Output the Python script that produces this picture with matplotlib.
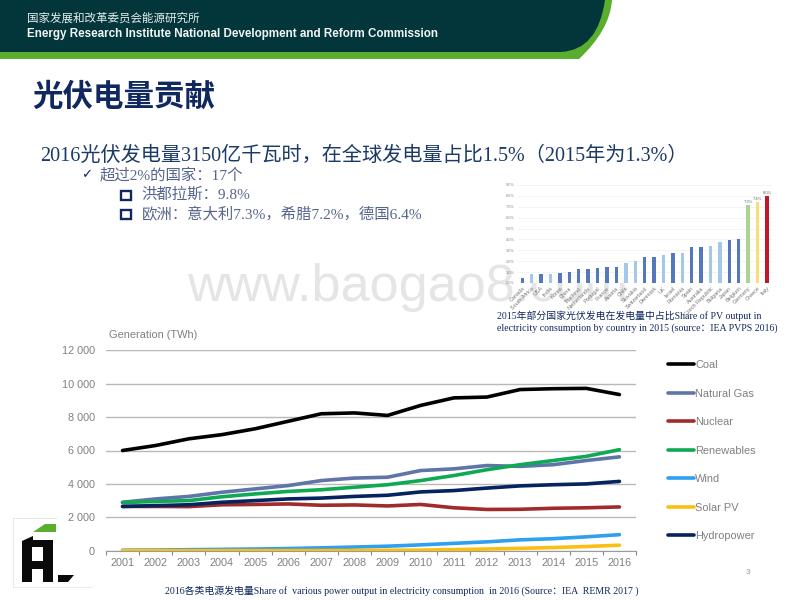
import matplotlib
matplotlib.use("Agg")
import matplotlib.pyplot as plt
from matplotlib.patches import PathPatch, Polygon, Rectangle
from matplotlib.path import Path

CJK = "Noto Sans CJK SC"
SANS = "Liberation Sans"
SERIF = "Liberation Serif"
plt.rcParams["font.family"] = [SANS, CJK, "DejaVu Sans"]

years = [str(y) for y in range(2001, 2017)]
coal = [6000, 6300, 6700, 6950, 7300, 7750, 8200, 8250, 8100, 8700, 9150, 9200, 9650, 9700, 9720, 9350]
gas = [2900, 3100, 3250, 3500, 3700, 3900, 4200, 4350, 4400, 4800, 4900, 5100, 5050, 5150, 5400, 5620]
nuclear = [2650, 2650, 2640, 2750, 2770, 2800, 2720, 2740, 2680, 2770, 2570, 2470, 2480, 2540, 2570, 2620]
renewables = [2880, 2950, 3000, 3230, 3400, 3550, 3650, 3800, 3950, 4200, 4500, 4850, 5150, 5400, 5650, 6050]
wind = [30, 40, 60, 80, 100, 130, 170, 220, 270, 350, 440, 530, 650, 720, 830, 960]
solar = [2, 3, 4, 5, 6, 8, 10, 15, 25, 35, 65, 100, 140, 190, 250, 330]
hydro = [2650, 2700, 2750, 2900, 3000, 3100, 3150, 3250, 3320, 3520, 3600, 3750, 3880, 3950, 4000, 4150]
series_names = ["Coal", "Natural Gas", "Nuclear", "Renewables", "Wind", "Solar PV", "Hydropower"]
series_values = [coal, gas, nuclear, renewables, wind, solar, hydro]
series_colors = ["#000000", "#5f74a8", "#a02b2b", "#0fa955", "#2f9fee", "#fbbf12", "#05235f"]
gen_ticks = [0, 2000, 4000, 6000, 8000, 10000, 12000]
gen_tick_labels = ["0", "2 000", "4 000", "6 000", "8 000", "10 000", "12 000"]

countries = ["Canada", "South Africa", "USA", "India", "Korea", "China", "Thailand", "Netherlands",
             "Portugal", "France", "Austria", "Chile", "Slovakia", "Switzerland", "Denmark", "UK",
             "Israel", "Romania", "Spain", "Australia", "Czech Republic", "Bulgaria", "Japan",
             "Belgium", "Germany", "Greece", "Italy"]
pv_share = [0.5, 0.8, 0.85, 0.85, 0.9, 1.0, 1.3, 1.3, 1.4, 1.5, 1.5, 1.8, 2.0, 2.35, 2.4, 2.55, 2.75,
            2.8, 3.3, 3.35, 3.4, 3.8, 3.95, 4.05, 7.2, 7.4, 8.0]
D, L = "#5379ba", "#a5c8e8"
pv_colors = [D, L, D, L, D, D, D, D, D, D, D, L, L, D, D, L, D, L, D, D, L, L, D, D,
             "#acd391", "#fbdc77", "#c0182a"]
share_ticks = list(range(0, 10))

W, H = 800, 600
fig = plt.figure(figsize=(8, 6), dpi=100, facecolor="white")


def box(l, t, r, b):
    return [l / W, 1 - b / H, (r - l) / W, (b - t) / H]


bg = fig.add_axes([0, 0, 1, 1], zorder=0)
bg.set_xlim(0, W)
bg.set_ylim(H, 0)
bg.axis("off")

# header band
green = Path([(0, 0), (612, 0), (610, 30), (579, 59), (0, 59), (0, 0)],
             [Path.MOVETO, Path.LINETO, Path.CURVE3, Path.CURVE3, Path.LINETO, Path.CLOSEPOLY])
dark = Path([(0, 0), (605, 0), (598, 50), (561, 52), (0, 52), (0, 0)],
            [Path.MOVETO, Path.LINETO, Path.CURVE3, Path.CURVE3, Path.LINETO, Path.CLOSEPOLY])
bg.add_patch(PathPatch(green, fc="#5aae2e", ec="none"))
bg.add_patch(PathPatch(dark, fc="#03363a", ec="none"))
bg.text(27, 18.5, "国家发展和改革委员会能源研究所", color="#e8eeee", fontsize=8.3, family=[CJK], va="center")
bg.text(27, 33.5, "Energy Research Institute National Development and Reform Commission",
        color="#f2f5f5", fontsize=8.38, fontweight="bold", family=[SANS], va="center")

# headings and bullets
bg.text(32, 96.5, "光伏电量贡献", color="#10285f", fontsize=22, fontweight="bold", family=[CJK], va="center")
bg.text(40, 156, "2016光伏发电量3150亿千瓦时\uff0c在全球发电量占比1.5%\uff082015年为1.3%\uff09", color="#1b3a66",
        fontsize=14.5, family=[SERIF, CJK], va="center")
bg.text(81, 175, "✓", color="#10285f", fontsize=9.5, family=["DejaVu Sans"], va="center")
bg.text(100, 175.5, "超过2%的国家\uff1a17个", color="#55658c", fontsize=11.1, family=[SERIF, CJK], va="center")
for y, txt in [(195, "洪都拉斯\uff1a9.8%"), (214, "欧洲\uff1a意大利7.3%\uff0c希腊7.2%\uff0c德国6.4%")]:
    bg.add_patch(Rectangle((121, y - 4.5), 10, 9.5, fc="none", ec="#10285f", lw=1.7))
    bg.text(141.5, y, txt, color="#55658c", fontsize=11.1, family=[SERIF, CJK], va="center")

# watermark
bg.text(187, 288, "www.baogao8.com", color="#e5e5e5", fontsize=37.5, family=[SANS], va="center")

# captions
bg.text(497, 316, "2015年部分国家光伏发电在发电量中占比Share of PV output in", color="#10285f",
        fontsize=7.1, family=[SERIF, CJK], va="center")
bg.text(497, 328.5, "electricity consumption by country in 2015 (source\uff1aIEA PVPS 2016)", color="#10285f",
        fontsize=7.15, family=[SERIF, CJK], va="center")
bg.text(165, 590.5, "2016各类电源发电量Share of  various power output in electricity consumption  in 2016 (Source\uff1aIEA  REMR 2017 )",
        color="#10285f", fontsize=7.15, family=[SERIF, CJK], va="center")
bg.text(748, 573, "3", color="#999999", fontsize=6, va="center", ha="center")

# bar chart
ax2 = fig.add_axes(box(517.6, 185, 771.7, 283), zorder=1)
ax2.patch.set_alpha(0.8)
xs2 = range(len(countries))
ax2.bar(xs2, pv_share, width=0.36, color=pv_colors, zorder=3)
ax2.set_xlim(-0.5, len(countries) - 0.5)
ax2.set_ylim(0, 9)
ax2.set_yticks(share_ticks)
ax2.set_yticklabels([f"{v}.0%" for v in share_ticks], fontsize=2.8, color="#888888")
ax2.set_xticks(list(xs2))
ax2.set_xticklabels(countries, rotation=45, ha="right", rotation_mode="anchor", fontsize=4, color="#777777")
ax2.tick_params(length=0, pad=2)
ax2.grid(axis="y", color="#efefef", lw=0.5, zorder=0)
ax2.set_axisbelow(True)
for s in ax2.spines.values():
    s.set_visible(False)
for i in (24, 25, 26):
    ax2.text(i, pv_share[i] + 0.1, f"{pv_share[i]:.1f}%", ha="center", va="bottom", fontsize=3, color="#666666")

# line chart
ax = fig.add_axes(box(106, 350.3, 636, 550.7), zorder=2)
ax.patch.set_alpha(0)
xs = list(range(len(years)))
for name, vals, col in zip(series_names, series_values, series_colors):
    ax.plot(xs, vals, color=col, lw=2.6, label=name, solid_capstyle="round", solid_joinstyle="round", zorder=3)
ax.set_xlim(-0.5, 15.5)
ax.set_ylim(0, 12000)
ax.set_yticks(gen_ticks)
ax.set_yticklabels(gen_tick_labels, fontsize=7.8, color="#808080")
ax.set_xticks(xs)
ax.set_xticklabels(years, fontsize=7.8, color="#808080")
ax.set_xticks([i - 0.5 for i in range(17)], minor=True)
ax.tick_params(axis="both", which="major", length=0)
ax.tick_params(axis="y", pad=8)
ax.tick_params(axis="x", pad=5.5)
ax.tick_params(axis="x", which="minor", length=3.2, color="#888888", width=0.8, direction="out")
ax.grid(axis="y", color="#b8b8b8", lw=1.0, zorder=0)
ax.set_axisbelow(True)
for s in ("top", "right", "left"):
    ax.spines[s].set_visible(False)
ax.spines["bottom"].set_color("#9a9a9a")
ax.text(109 / W, 1 - 334.5 / H, "Generation (TWh)", transform=fig.transFigure, fontsize=7.9, color="#808080", va="center")
leg = ax.legend(loc="upper left", bbox_to_anchor=(668 / W, 1 - 360 / H), bbox_transform=fig.transFigure,
                frameon=False, fontsize=7.9, labelspacing=1.69, handlelength=2.35, handletextpad=0.12,
                borderpad=0, borderaxespad=0, labelcolor="#808080")

# logo on top
fg = fig.add_axes([0, 0, 1, 1], zorder=3)
fg.set_xlim(0, W)
fg.set_ylim(H, 0)
fg.axis("off")
fg.patch.set_alpha(0)
fg.add_patch(Rectangle((13, 518), 44, 69, fc="white", ec="none"))
fg.add_patch(Rectangle((57, 518), 6, 8, fc="white", ec="none"))
fg.add_patch(Rectangle((57, 564), 36, 23, fc="white", ec="none"))
fg.plot([13, 13], [518, 587], color="#e4e4e4", lw=0.6)
fg.plot([13, 56], [518, 518], color="#e4e4e4", lw=0.6)
fg.plot([13, 92], [587, 587], color="#e8e8e8", lw=0.6)
fg.add_patch(Polygon([(33, 532), (45, 524), (56, 524), (56, 532)], fc="#5aae2e", ec="none"))
fg.add_patch(Polygon([(22, 582), (22, 541), (33, 536), (33, 540), (53, 540), (53, 582), (43, 582), (43, 569),
                      (32, 569), (32, 582)], fc="#0a0a0a", ec="none"))
fg.add_patch(Rectangle((32, 547), 11, 14, fc="white", ec="none"))
fg.add_patch(Polygon([(58, 575), (74, 575), (68, 582), (58, 582)], fc="#0a0a0a", ec="none"))

fig.savefig("out.png", dpi=100)
